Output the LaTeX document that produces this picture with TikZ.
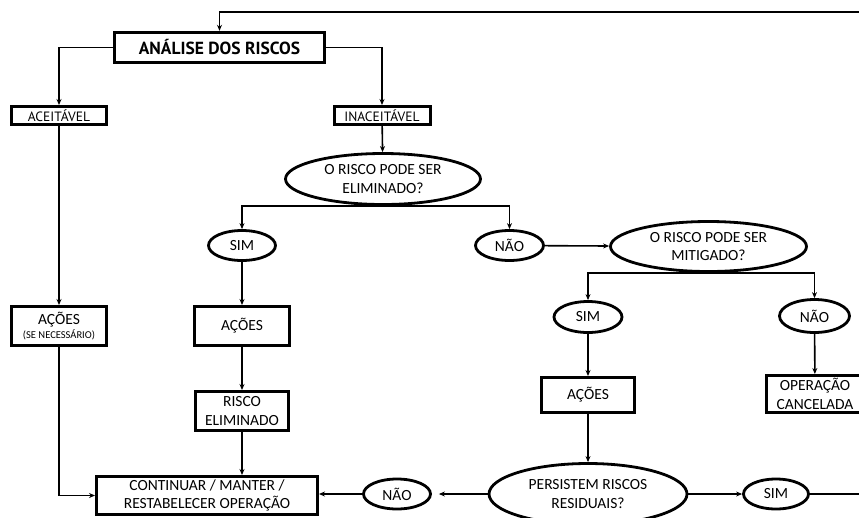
\documentclass[tikz,border=0pt]{standalone}
\usepackage{fontspec}
\setmainfont{Carlito}
\newfontfamily\dinfont{PT Sans}
\usetikzlibrary{positioning,shapes.geometric,arrows.meta}

\begin{document}
\begin{tikzpicture}[x=1pt, y=-1pt,
    >={Stealth[length=6pt,width=5pt]}, line width=1.6pt,
    every node/.style={font=\fontsize{15.5}{18.5}\selectfont, align=center, inner sep=0pt},
    caixa/.style={draw, rectangle, line width=3pt},
    oval/.style={draw, ellipse, line width=2.8pt},
    rotulo/.style={font=\dinfont\fontsize{13.5}{16}\selectfont}
  ]
  \useasboundingbox (0,0) rectangle (859,517);

  \node[caixa, line width=3.4pt, minimum width=210, minimum height=30,
        font=\dinfont\bfseries\fontsize{17.5}{20}\selectfont] (analise) at (219.5,47.5) {ANÁLISE DOS RISCOS};
  \node[caixa, rotulo, minimum width=95, minimum height=18] (aceitavel) at (59,115.5) {ACEITÁVEL};
  \node[caixa, rotulo, minimum width=96, minimum height=18] (inaceitavel) at (382,115.5) {INACEITÁVEL};
  \node[oval, minimum width=195, minimum height=51] (elim) at (383,179) {O RISCO PODE SER\\ELIMINADO?};
  \node[oval, minimum width=67, minimum height=30] (simE) at (242,245.5) {SIM};
  \node[oval, minimum width=68, minimum height=30] (naoE) at (509.5,245.5) {NÃO};
  \node[oval, minimum width=196, minimum height=50] (mitig) at (708.5,246.5) {O RISCO PODE SER\\MITIGADO?};
  \node[oval, minimum width=68, minimum height=31] (simM) at (588,317) {SIM};
  \node[oval, minimum width=70, minimum height=33] (naoM) at (814.5,316) {NÃO};
  \node[caixa, minimum width=97, minimum height=37] (cancelada) at (815,394) {OPERAÇÃO\\CANCELADA};
  \node[caixa, minimum width=93, minimum height=35] (acoesM) at (588,395) {AÇÕES};
  \node[oval, minimum width=198, minimum height=61] (persist) at (588,494) {PERSISTEM RISCOS\\RESIDUAIS?};
  \node[oval, minimum width=67, minimum height=30] (naoP) at (397,494) {NÃO};
  \node[oval, minimum width=65, minimum height=30] (simP) at (776,494) {SIM};
  \node[caixa, minimum width=221, minimum height=38] (continuar) at (207,495.5) {CONTINUAR / MANTER /\\RESTABELECER OPERAÇÃO};
  \node[caixa, minimum width=95, minimum height=39] (acoesA) at (59,326)
        {AÇÕES\\[-4pt]{\fontsize{10.5}{12}\selectfont(SE NECESSÁRIO)}};
  \node[caixa, minimum width=95, minimum height=39] (acoesE) at (242,326) {AÇÕES};
  \node[caixa, minimum width=93, minimum height=39] (eliminado) at (242,411) {RISCO\\ELIMINADO};
  \coordinate (volta) at (875,12);

  \draw[->] (analise.west) -| (aceitavel.north);
  \draw[->] (analise.east) -| (inaceitavel.north);
  \draw[->] (elim.south) -| (simE.north);
  \draw[->] (elim.south) -| (naoE.north);
  \draw[->] (mitig.south) -| (simM.north);
  \draw[->] (mitig.south) -| (naoM.north);
  \draw[->] (acoesA.south) |- (continuar.west);
  \draw[->] (eliminado.south) -- (eliminado.south |- continuar.north);
  \draw[->] (naoP.west) -- (naoP.west -| continuar.east);
  \draw[->, shorten >=7pt] (persist.west) -- (naoP.east);
  \draw[->] (simP.east) -- (simP.east -| volta) -- (volta) -| (analise.north);
  \path[->]
    (inaceitavel) edge (elim)
    (aceitavel) edge (acoesA)
    (simE) edge (acoesE)
    (acoesE) edge (eliminado)
    (naoE) edge (mitig)
    (simM) edge (acoesM)
    (naoM) edge (cancelada)
    (acoesM) edge (persist)
    (persist) edge (simP);
\end{tikzpicture}
\end{document}
